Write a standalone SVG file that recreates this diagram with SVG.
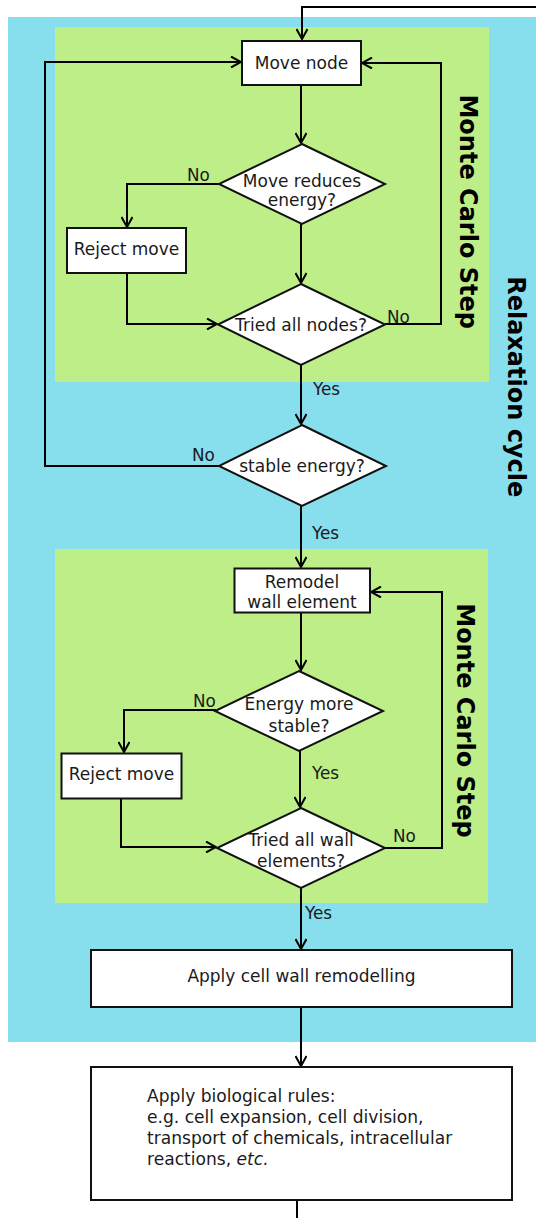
<svg xmlns="http://www.w3.org/2000/svg" width="536" height="1218" viewBox="0 0 536 1218">
<style>
.box{fill:#fff;stroke:#111;stroke-width:2}
.t{font-family:"DejaVu Sans","Verdana",sans-serif;font-size:17px;fill:#1a1a1a;text-anchor:middle}
.lb{font-family:"DejaVu Sans","Verdana",sans-serif;font-size:16.8px;fill:#1a1a1a}
.bio{font-family:"DejaVu Sans","Verdana",sans-serif;font-size:17.1px;fill:#1a1a1a}
.title{font-family:"DejaVu Sans",sans-serif;font-size:24px;font-weight:bold;fill:#000;text-anchor:middle}
.c{fill:none;stroke:#000;stroke-width:2}
</style>
<defs>
<marker id="ah" viewBox="0 0 12 12" refX="11" refY="6" markerWidth="12" markerHeight="12" markerUnits="userSpaceOnUse" orient="auto">
<path d="M1,0.5 L11,6 L1,11.5" fill="none" stroke="#000" stroke-width="2"/>
</marker>
</defs>
<g id="backgrounds">
<rect x="8" y="17" width="528" height="1025" fill="#87dfee"/>
<rect x="55" y="27" width="434" height="355" fill="#bdee88"/>
<rect x="55" y="549" width="433" height="354" fill="#bdee88"/>
</g>
<g id="titles">
<text class="title" transform="translate(460,211.7) rotate(90)">Monte Carlo Step</text>
<text class="title" transform="translate(457,720.5) rotate(90)">Monte Carlo Step</text>
<text class="title" transform="translate(508,386.7) rotate(90)">Relaxation cycle</text>
</g>
<g id="connectors">
<path class="c" d="M536,7 H302 V39" marker-end="url(#ah)"/>
<path class="c" d="M301,85 V143" marker-end="url(#ah)"/>
<path class="c" d="M219,184 H127 V227" marker-end="url(#ah)"/>
<path class="c" d="M301,224 V283" marker-end="url(#ah)"/>
<path class="c" d="M127,273 V324 H217" marker-end="url(#ah)"/>
<path class="c" d="M385,324 H441 V63 H362" marker-end="url(#ah)"/>
<path class="c" d="M301,365 V424" marker-end="url(#ah)"/>
<path class="c" d="M219,466 H45 V62 H241" marker-end="url(#ah)"/>
<path class="c" d="M301,506 V567" marker-end="url(#ah)"/>
<path class="c" d="M301,613 V670" marker-end="url(#ah)"/>
<path class="c" d="M216,710 H124 V752" marker-end="url(#ah)"/>
<path class="c" d="M300,751 V807" marker-end="url(#ah)"/>
<path class="c" d="M121,798 V847 H216" marker-end="url(#ah)"/>
<path class="c" d="M385,848 H442 V592 H371" marker-end="url(#ah)"/>
<path class="c" d="M301,888 V949" marker-end="url(#ah)"/>
<path class="c" d="M301,1008 V1066" marker-end="url(#ah)"/>
<path class="c" d="M297,1200 V1218"/>
</g>
<g id="labels">
<text class="lb" x="187" y="181">No</text>
<text class="lb" x="387" y="323">No</text>
<text class="lb" x="313" y="395">Yes</text>
<text class="lb" x="192" y="461">No</text>
<text class="lb" x="312" y="539">Yes</text>
<text class="lb" x="193" y="706.5">No</text>
<text class="lb" x="312" y="779">Yes</text>
<text class="lb" x="393" y="841.5">No</text>
<text class="lb" x="305" y="918.5">Yes</text>
</g>
<g id="move-node">
<rect class="box" x="242" y="41" width="119" height="44"/>
<text class="t" x="301.5" y="68.5">Move node</text>
</g>
<g id="move-reduces-energy">
<polygon class="box" points="302,144 385,184 302,224 219,184"/>
<text class="t" x="302" y="186.5">Move reduces</text>
<text class="t" x="302" y="205.5">energy?</text>
</g>
<g id="reject-move-1">
<rect class="box" x="67" y="228" width="119" height="45"/>
<text class="t" x="126.5" y="254.5">Reject move</text>
</g>
<g id="tried-all-nodes">
<polygon class="box" points="301,284 385,324.5 301,365 218,324.5"/>
<text class="t" x="301" y="330.5">Tried all nodes?</text>
</g>
<g id="stable-energy">
<polygon class="box" points="302,425 386,466 302,506 219,466"/>
<text class="t" x="302" y="471.5">stable energy?</text>
</g>
<g id="remodel-wall-element">
<rect class="box" x="234.5" y="568.5" width="135.5" height="44"/>
<text class="t" x="302" y="588">Remodel</text>
<text class="t" x="302" y="608">wall element</text>
</g>
<g id="energy-more-stable">
<polygon class="box" points="299,671 383,711 299,751 215,711"/>
<text class="t" x="299" y="709.5">Energy more</text>
<text class="t" x="299" y="731.5">stable?</text>
</g>
<g id="reject-move-2">
<rect class="box" x="61.5" y="753.5" width="120" height="45"/>
<text class="t" x="121.5" y="779.5">Reject move</text>
</g>
<g id="tried-all-wall-elements">
<polygon class="box" points="301,808 385,848 301,888 217,848"/>
<text class="t" x="301" y="845.5">Tried all wall</text>
<text class="t" x="301" y="866.5">elements?</text>
</g>
<g id="apply-cell-wall-remodelling">
<rect class="box" x="91" y="950" width="421" height="57"/>
<text class="t" x="301.5" y="982">Apply cell wall remodelling</text>
</g>
<g id="apply-biological-rules">
<rect class="box" x="91" y="1067" width="421" height="133"/>
<text class="bio" x="147" y="1101.5">Apply biological rules:</text>
<text class="bio" x="147" y="1123">e.g. cell expansion, cell division,</text>
<text class="bio" x="147" y="1144">transport of chemicals, intracellular</text>
<text class="bio" x="147" y="1165">reactions, <tspan font-style="italic">etc.</tspan></text>
</g>
</svg>
